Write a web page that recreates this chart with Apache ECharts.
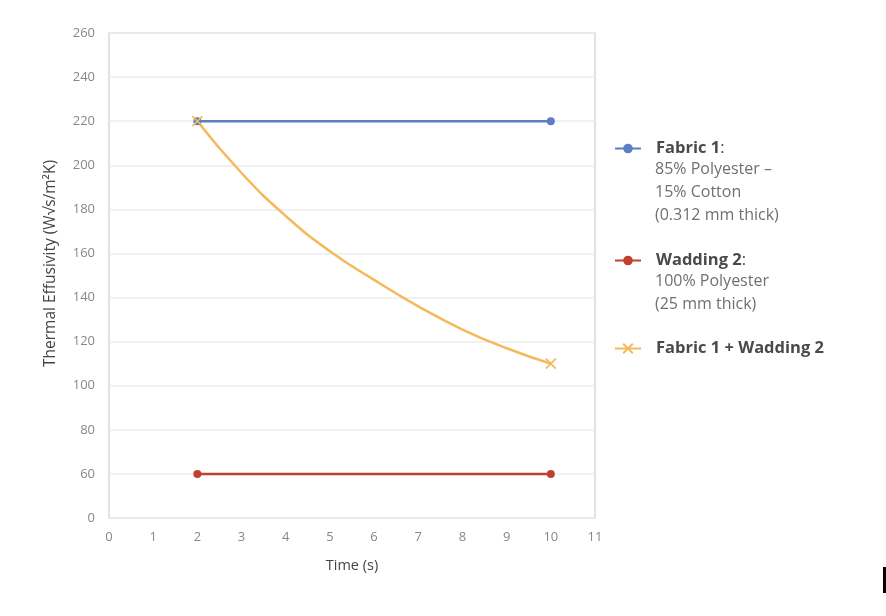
<!DOCTYPE html>
<html>
<head>
<meta charset="utf-8">
<script src="https://cdn.jsdelivr.net/npm/echarts@6/dist/echarts.min.js"></script>
<style>html,body{margin:0;padding:0;background:#fff}#c{width:886px;height:616px}</style>
</head>
<body>
<div id="c"></div>
<script>
// Data
const seriesNames = ['Fabric 1', 'Wadding 2', 'Fabric 1 + Wadding 2'];
const fabric1 = [[2, 220], [10, 220]];
const wadding2 = [[2, 60], [10, 60]];
// combined curve sampled off the smooth line (markers only at ends)
const combined = [[2, 220], [3, 196.5], [4, 177], [5, 161], [6, 148], [7, 136], [8, 125.5], [9, 117], [10, 110]];
const yTickLabels = {40: '0'}; // broken axis: bottom tick reads 0
const descFabric1 = ['85% Polyester –', '15% Cotton', '(0.312 mm thick)'];
const descWadding2 = ['100% Polyester', '(25 mm thick)'];

const FONT = 'Open Sans';
const blue = '#5b7fc1', red = '#c0402e', orange = '#f3b95a';
const crossPath = 'path://M0,0L10,10M10,0L0,10';

const combData = combined.map((p, i) => ({
  value: p,
  symbol: (i === 0 || i === combined.length - 1) ? crossPath : 'none'
}));

const chart = echarts.init(document.getElementById('c'));
const nameStyle = {fontFamily: FONT, fontSize: 16.5, fontWeight: 'bold', color: '#4a4a4a', padding: [0, 0, 0, 10],
  rich: {c: {fontFamily: FONT, fontSize: 16.5, fontWeight: 'normal', color: '#4a4a4a'}}};
const legendBase = {orient: 'vertical', left: 609, itemWidth: 26, itemHeight: 12, itemGap: 0, textStyle: nameStyle};
chart.setOption({
  animation: false,
  textStyle: {fontFamily: FONT},
  grid: {left: 109, top: 33, right: 291, bottom: 98, show: true, borderColor: '#d9d9d9', borderWidth: 1.5},
  legend: [
    Object.assign({}, legendBase, {top: 135, data: [seriesNames[0]], formatter: n => n + '{c|:}'}),
    Object.assign({}, legendBase, {top: 247, data: [seriesNames[1]], formatter: n => n + '{c|:}'}),
    Object.assign({}, legendBase, {top: 335, data: [seriesNames[2]]})
  ],
  graphic: [
    {type: 'text', left: 655, top: 158, style: {text: descFabric1.join('\n'), fontFamily: FONT, fontSize: 16, lineHeight: 23, fill: '#707070'}},
    {type: 'text', left: 655, top: 270, style: {text: descWadding2.join('\n'), fontFamily: FONT, fontSize: 16, lineHeight: 23, fill: '#707070'}},
    {type: 'rect', shape: {x: 883, y: 567, width: 3, height: 26}, style: {fill: '#000'}}
  ],
  xAxis: {
    type: 'value', min: 0, max: 11, interval: 1,
    name: 'Time (s)', nameLocation: 'middle', nameGap: 40,
    nameTextStyle: {fontFamily: FONT, fontSize: 14.5, color: '#444'},
    axisLine: {show: false}, axisTick: {show: false}, splitLine: {show: false},
    axisLabel: {color: '#888', fontSize: 13, margin: 13, fontFamily: FONT}
  },
  yAxis: {
    type: 'value', min: 40, max: 260, interval: 20,
    name: 'Thermal Effusivity (W√s/m²K)', nameLocation: 'middle', nameGap: 50,
    nameTextStyle: {fontFamily: FONT, fontSize: 15.5, color: '#444', padding: [0, 0, 0, 24]},
    axisLine: {show: false}, axisTick: {show: false},
    splitLine: {lineStyle: {color: '#ececec', width: 1.5}},
    axisLabel: {color: '#888', fontSize: 13, margin: 14, fontFamily: FONT,
      formatter: v => (yTickLabels[v] !== undefined ? yTickLabels[v] : String(v))}
  },
  series: [
    {name: seriesNames[0], type: 'line', data: fabric1, symbol: 'circle', symbolSize: 8,
      lineStyle: {color: blue, width: 2.5}, itemStyle: {color: blue}},
    {name: seriesNames[1], type: 'line', data: wadding2, symbol: 'circle', symbolSize: 8,
      lineStyle: {color: red, width: 2.5}, itemStyle: {color: red}},
    {name: seriesNames[2], type: 'line', data: combData, smooth: 0.5, symbol: crossPath, symbolSize: 10,
      showAllSymbol: true, z: 3,
      lineStyle: {color: orange, width: 2.5},
      itemStyle: {color: orange, borderColor: orange, borderWidth: 1.6}}
  ]
});
</script>
</body>
</html>
